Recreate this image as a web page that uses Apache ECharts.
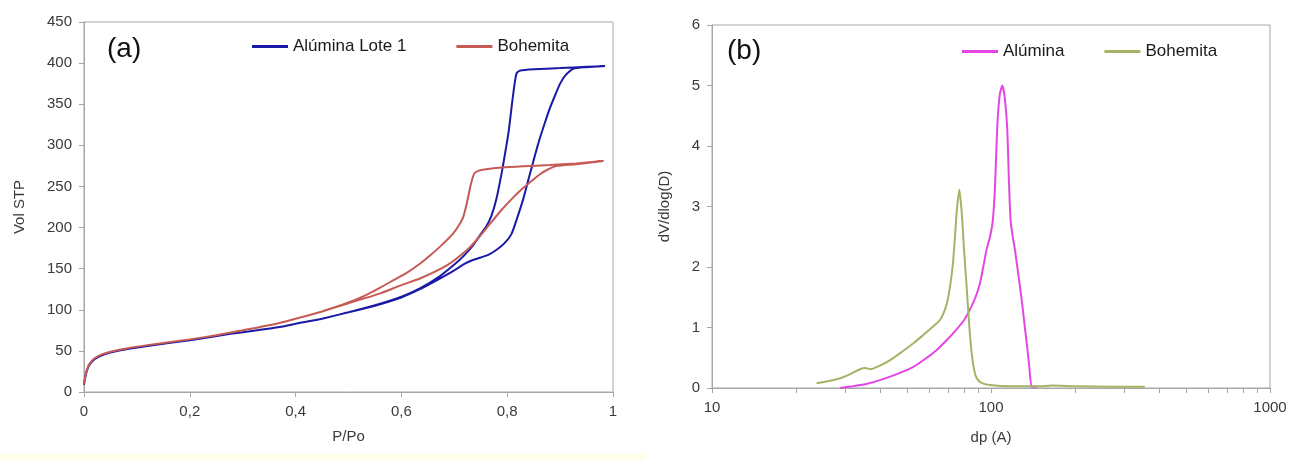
<!DOCTYPE html>
<html>
<head>
<meta charset="utf-8">
<script src="https://cdn.jsdelivr.net/npm/echarts@6/dist/echarts.min.js"></script>
<style>
html,body{margin:0;padding:0;background:#fff;}
#chart{width:1291px;height:460px;}
</style>
</head>
<body>
<div id="chart"></div>
<script>
// ---------- Panel (a): N2 isotherms, [P/Po, Vol STP] (adsorption then desorption) ----------
const aluminaLote1 = [
  [0,9],[0.003,20],[0.006,27],[0.01,33],[0.02,40],[0.035,45],[0.05,48],[0.08,52],[0.12,56],
  [0.2,63],[0.28,71],[0.37,79],[0.4,83],[0.45,89],[0.5,97],[0.55,105],[0.6,115],[0.635,125],
  [0.67,137],[0.7,148],[0.72,156],[0.735,160.5],[0.75,163.5],[0.765,167],[0.78,173],[0.795,181],
  [0.808,192],[0.818,210],[0.83,234],[0.84,258],[0.85,282],[0.86,305],[0.87,325],[0.88,344],
  [0.89,360],[0.9,375],[0.91,385],[0.925,393],[0.95,395],[0.985,396.5],
  [0.95,395.5],[0.9,394],[0.85,392.5],[0.825,391],[0.818,388],[0.814,375],[0.809,350],
  [0.803,318],[0.797,294],[0.79,268],[0.78,236],[0.77,214],[0.76,201],[0.75,192],[0.735,178],
  [0.717,165],[0.7,155],[0.673,141],[0.635,126],[0.6,116],[0.55,105.5],[0.5,97],[0.45,89]
];
const bohemitaIso = [
  [0,10],[0.003,21],[0.006,28],[0.01,34],[0.02,41],[0.035,46],[0.05,49],[0.08,53],[0.12,57],
  [0.2,64],[0.25,69],[0.3,75],[0.37,84],[0.4,89],[0.45,98],[0.5,108],[0.56,120],[0.6,130],
  [0.635,138],[0.686,154],[0.723,172],[0.745,187],[0.768,205],[0.79,222],[0.812,237],
  [0.83,248],[0.843,255],[0.86,264],[0.875,270],[0.894,275],[0.93,277],[0.982,281],
  [0.93,278],[0.88,276],[0.83,274.5],[0.79,273],[0.76,271],[0.745,269],[0.738,266],
  [0.734,259],[0.73,249],[0.7265,238],[0.722,225],[0.717,213],[0.71,204],[0.698,193],
  [0.675,178],[0.654,166],[0.635,156],[0.61,145],[0.585,136],[0.56,127],[0.53,117],[0.5,109],[0.45,98]
];

// ---------- Panel (b): pore size distribution, [dp (A), dV/dlog(D)] ----------
const aluminaPSD = [
  [28.8,0],[32,0.03],[36,0.07],[40,0.13],[46,0.23],[52.7,0.35],[58,0.48],[63.9,0.63],
  [70,0.81],[75.3,0.97],[80,1.12],[84.1,1.3],[88,1.5],[91.3,1.73],[94,2.02],[96.5,2.3],
  [99.2,2.5],[101.4,2.75],[103.3,3.3],[105.3,4.32],[107.5,4.85],[109.8,5.0],[112,4.8],
  [114.3,4.3],[116,3.4],[117.5,2.78],[119.5,2.52],[121.9,2.28],[125.5,1.85],[128.9,1.45],
  [131.5,1.1],[134.3,0.74],[137,0.38],[140,0.02],[146,0.02]
];
const bohemitaPSD = [
  [23.7,0.08],[26,0.11],[28.8,0.16],[31,0.22],[33.9,0.31],[35.5,0.33],[37,0.31],[40,0.37],
  [43.5,0.46],[48,0.6],[52.7,0.74],[57,0.87],[60.4,0.97],[63.9,1.07],[65.5,1.12],[67.5,1.23],
  [69.5,1.4],[71.3,1.67],[73,2.05],[74.3,2.5],[75.3,2.9],[77,3.28],[78.7,2.85],[80,2.3],
  [81.8,1.67],[83.5,1.05],[85.3,0.57],[87,0.3],[88.9,0.16],[92,0.09],[99,0.05],[120,0.03],
  [150,0.03],[165,0.04],[200,0.03],[280,0.02],[356,0.02]
];
const xTicksB = [10,20,30,40,50,60,70,80,90,100,200,300,400,500,600,700,800,900,1000];

const FONT = 'Liberation Sans, Arial, sans-serif';
const axisGrey = '#a6a6a6';
const labelCol = '#3a3a3a';

const chart = echarts.init(document.getElementById('chart'), null, {renderer: 'canvas'});
chart.setOption({
  backgroundColor: '#ffffff',
  animation: false,
  textStyle: {fontFamily: FONT},
  graphic: [
    {type: 'rect', shape: {x: 0, y: 454, width: 645, height: 6}, style: {fill: '#fefee9'}, z: -10},
    {type: 'text', left: 107, top: 35, style: {text: '(a)', font: '28px ' + FONT, fill: '#111'}},
    {type: 'text', left: 727, top: 37, style: {text: '(b)', font: '28px ' + FONT, fill: '#111'}}
  ],
  grid: [
    {left: 84, top: 22, width: 529, height: 370, show: true, borderColor: axisGrey, borderWidth: 1, backgroundColor: 'transparent'},
    {left: 712, top: 25, width: 558, height: 363, show: true, borderColor: axisGrey, borderWidth: 1, backgroundColor: 'transparent'}
  ],
  legend: [
    {
      left: 247, top: 33, itemWidth: 36, itemHeight: 3, itemGap: 50, icon: 'rect',
      textStyle: {fontSize: 17, color: '#1a1a1a', fontFamily: FONT},
      data: [
        {name: 'Alúmina Lote 1', itemStyle: {color: '#1a1aa6'}},
        {name: 'Bohemita', itemStyle: {color: '#c65a55'}}
      ]
    },
    {
      left: 957, top: 38, itemWidth: 36, itemHeight: 3, itemGap: 40, icon: 'rect',
      textStyle: {fontSize: 17, color: '#1a1a1a', fontFamily: FONT},
      data: [
        {name: 'Alúmina', itemStyle: {color: '#e645e6'}},
        {name: 'Bohemita', itemStyle: {color: '#a4b466'}}
      ]
    }
  ],
  xAxis: [
    {
      gridIndex: 0, type: 'value', min: 0, max: 1, interval: 0.2,
      name: 'P/Po', nameLocation: 'middle', nameGap: 37,
      nameTextStyle: {fontSize: 15, color: labelCol},
      axisLine: {lineStyle: {color: axisGrey}},
      axisTick: {show: true, inside: false, length: 5, lineStyle: {color: axisGrey}},
      axisLabel: {fontSize: 15, color: labelCol, margin: 12,
        formatter: v => String(+v.toFixed(1)).replace('.', ',')},
      splitLine: {show: false}
    },
    {
      gridIndex: 1, type: 'log', logBase: 10, min: 10, max: 1000,
      name: 'dp (A)', nameLocation: 'middle', nameGap: 42,
      nameTextStyle: {fontSize: 15, color: labelCol},
      axisLine: {lineStyle: {color: axisGrey}},
      axisTick: {show: true, length: 5, lineStyle: {color: axisGrey}, customValues: xTicksB},
      axisLabel: {fontSize: 15, color: labelCol, margin: 12, formatter: v => String(Math.round(v))},
      splitLine: {show: false}
    }
  ],
  yAxis: [
    {
      gridIndex: 0, type: 'value', min: 0, max: 450, interval: 50,
      name: 'Vol STP', nameLocation: 'middle', nameGap: 57, nameRotate: 90,
      nameTextStyle: {fontSize: 15, color: labelCol},
      axisLine: {show: true, lineStyle: {color: axisGrey}},
      axisTick: {show: true, length: 5, lineStyle: {color: axisGrey}},
      axisLabel: {fontSize: 15, color: labelCol, margin: 12},
      splitLine: {show: false}
    },
    {
      gridIndex: 1, type: 'value', min: 0, max: 6, interval: 1,
      name: 'dV/dlog(D)', nameLocation: 'middle', nameGap: 40, nameRotate: 90,
      nameTextStyle: {fontSize: 15, color: labelCol},
      axisLine: {show: true, lineStyle: {color: axisGrey}},
      axisTick: {show: true, length: 5, lineStyle: {color: axisGrey}},
      axisLabel: {fontSize: 15, color: labelCol, margin: 12},
      splitLine: {show: false}
    }
  ],
  series: [
    {name: 'Alúmina Lote 1', type: 'line', xAxisIndex: 0, yAxisIndex: 0, data: aluminaLote1,
     showSymbol: false, smooth: 0.2, color: '#1a1aa6', lineStyle: {width: 2, color: '#1a1aa6'}},
    {name: 'Bohemita', type: 'line', xAxisIndex: 0, yAxisIndex: 0, data: bohemitaIso,
     showSymbol: false, smooth: 0.2, color: '#c65a55', lineStyle: {width: 2, color: '#c65a55'}},
    {name: 'Alúmina', type: 'line', xAxisIndex: 1, yAxisIndex: 1, data: aluminaPSD,
     showSymbol: false, smooth: 0.2, color: '#e645e6', lineStyle: {width: 2, color: '#e645e6'}},
    {name: 'Bohemita', type: 'line', xAxisIndex: 1, yAxisIndex: 1, data: bohemitaPSD,
     showSymbol: false, smooth: 0.2, color: '#a4b466', lineStyle: {width: 2, color: '#a4b466'}}
  ]
});
</script>
</body>
</html>
